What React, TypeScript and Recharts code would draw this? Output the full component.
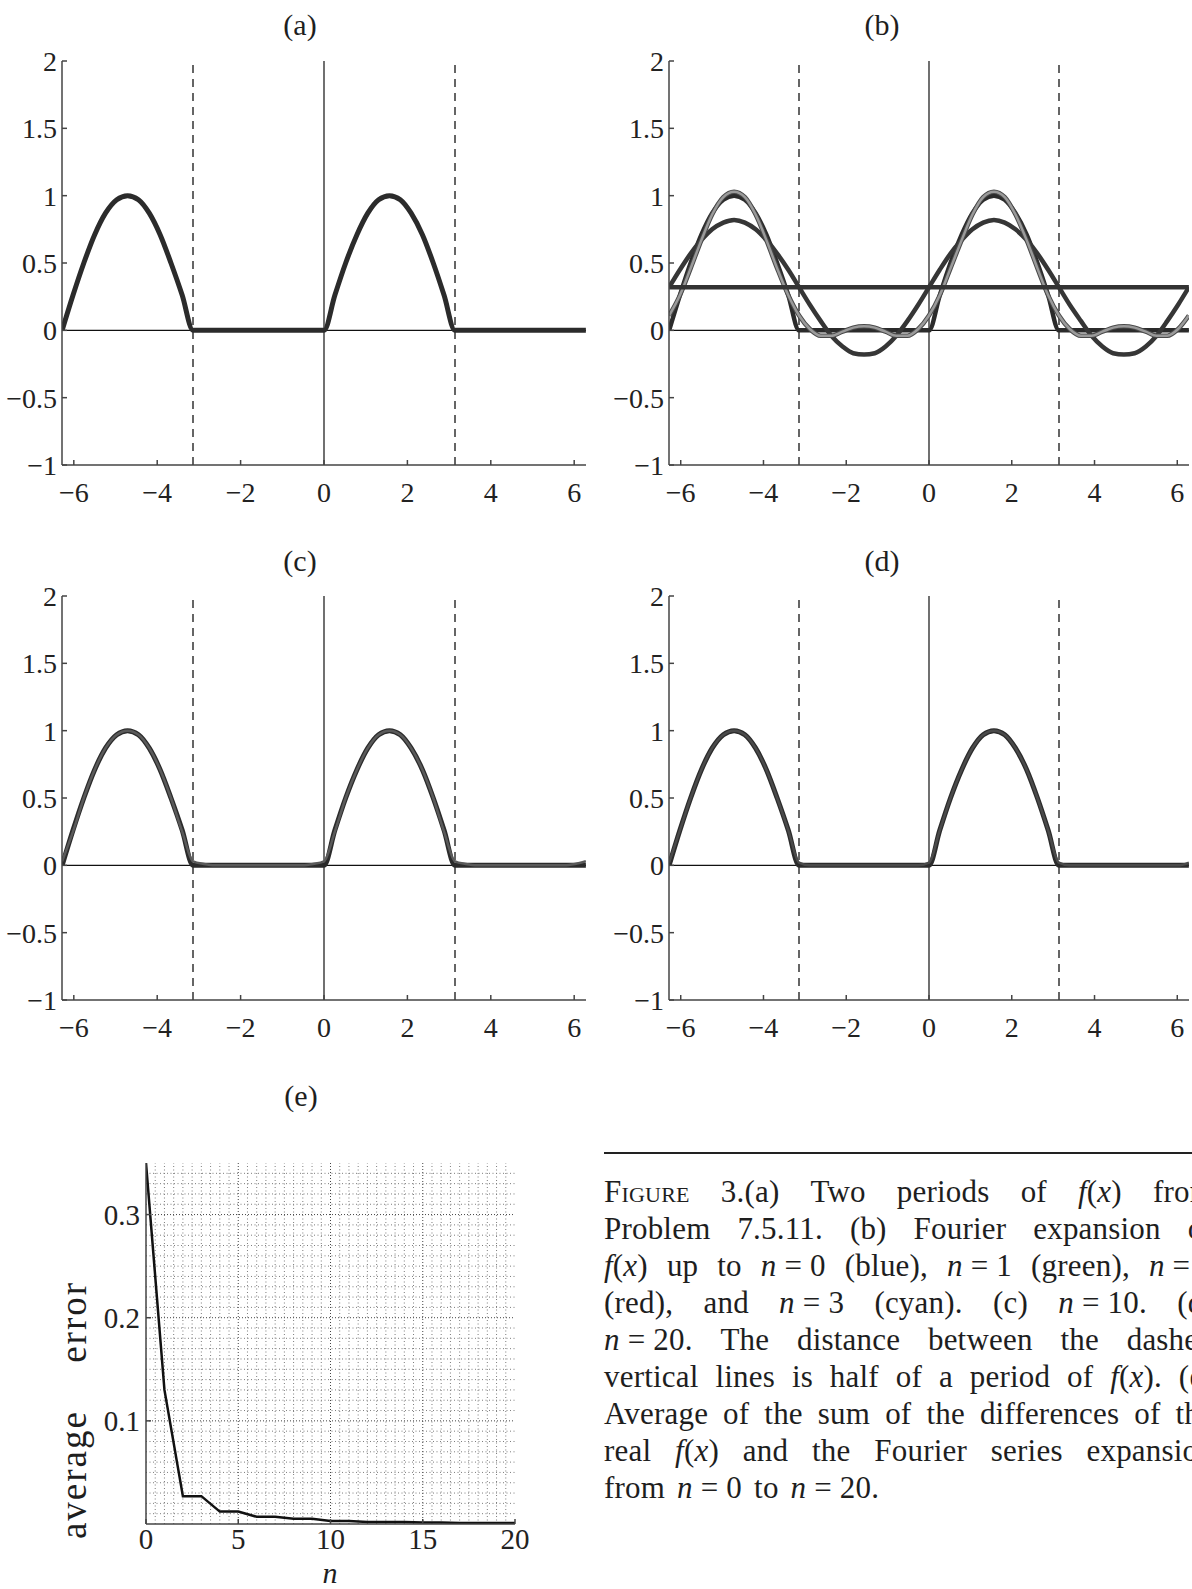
import React from 'react';
import { LineChart, Line, XAxis, YAxis, ReferenceLine } from 'recharts';

// x samples, steps of pi/12 across two periods
const xs = [
  -6.28, -6.02, -5.76, -5.5, -5.24, -4.97, -4.71, -4.45, -4.19, -3.93, -3.67, -3.4, -3.14,
  -2.88, -2.62, -2.36, -2.09, -1.83, -1.57, -1.31, -1.05, -0.79, -0.52, -0.26, 0,
  0.26, 0.52, 0.79, 1.05, 1.31, 1.57, 1.83, 2.09, 2.36, 2.62, 2.88, 3.14,
  3.4, 3.67, 3.93, 4.19, 4.45, 4.71, 4.97, 5.24, 5.5, 5.76, 6.02, 6.28,
];

// f(x), panel (a)
const exact = [
  0, 0.26, 0.5, 0.71, 0.87, 0.97, 1, 0.97, 0.87, 0.71, 0.5, 0.26, 0,
  0, 0, 0, 0, 0, 0, 0, 0, 0, 0, 0, 0,
  0.26, 0.5, 0.71, 0.87, 0.97, 1, 0.97, 0.87, 0.71, 0.5, 0.26, 0,
  0, 0, 0, 0, 0, 0, 0, 0, 0, 0, 0, 0,
];

// partial sums, panel (b)
const upToN0 = [
  0.32, 0.32, 0.32, 0.32, 0.32, 0.32, 0.32, 0.32, 0.32, 0.32, 0.32, 0.32, 0.32,
  0.32, 0.32, 0.32, 0.32, 0.32, 0.32, 0.32, 0.32, 0.32, 0.32, 0.32, 0.32,
  0.32, 0.32, 0.32, 0.32, 0.32, 0.32, 0.32, 0.32, 0.32, 0.32, 0.32, 0.32,
  0.32, 0.32, 0.32, 0.32, 0.32, 0.32, 0.32, 0.32, 0.32, 0.32, 0.32, 0.32,
];
const upToN1 = [
  0.32, 0.45, 0.57, 0.67, 0.75, 0.8, 0.82, 0.8, 0.75, 0.67, 0.57, 0.45, 0.32,
  0.19, 0.07, -0.04, -0.12, -0.17, -0.18, -0.17, -0.12, -0.04, 0.07, 0.19, 0.32,
  0.45, 0.57, 0.67, 0.75, 0.8, 0.82, 0.8, 0.75, 0.67, 0.57, 0.45, 0.32,
  0.19, 0.07, -0.04, -0.12, -0.17, -0.18, -0.17, -0.12, -0.04, 0.07, 0.19, 0.32,
];
const upToN2 = [
  0.11, 0.26, 0.46, 0.67, 0.86, 0.99, 1.03, 0.99, 0.86, 0.67, 0.46, 0.26, 0.11,
  0.01, -0.04, -0.04, -0.01, 0.02, 0.03, 0.02, -0.01, -0.04, -0.04, 0.01, 0.11,
  0.26, 0.46, 0.67, 0.86, 0.99, 1.03, 0.99, 0.86, 0.67, 0.46, 0.26, 0.11,
  0.01, -0.04, -0.04, -0.01, 0.02, 0.03, 0.02, -0.01, -0.04, -0.04, 0.01, 0.11,
];
const upToN3 = [
  0.11, 0.26, 0.46, 0.67, 0.86, 0.99, 1.03, 0.99, 0.86, 0.67, 0.46, 0.26, 0.11,
  0.01, -0.04, -0.04, -0.01, 0.02, 0.03, 0.02, -0.01, -0.04, -0.04, 0.01, 0.11,
  0.26, 0.46, 0.67, 0.86, 0.99, 1.03, 0.99, 0.86, 0.67, 0.46, 0.26, 0.11,
  0.01, -0.04, -0.04, -0.01, 0.02, 0.03, 0.02, -0.01, -0.04, -0.04, 0.01, 0.11,
];
// panels (c) and (d)
const upToN10 = [
  0.03, 0.25, 0.5, 0.71, 0.87, 0.97, 1, 0.97, 0.87, 0.71, 0.5, 0.25, 0.03,
  0.01, 0, 0, 0, 0, 0, 0, 0, 0, 0, 0.01, 0.03,
  0.25, 0.5, 0.71, 0.87, 0.97, 1, 0.97, 0.87, 0.71, 0.5, 0.25, 0.03,
  0.01, 0, 0, 0, 0, 0, 0, 0, 0, 0, 0.01, 0.03,
];
const upToN20 = [
  0.02, 0.26, 0.5, 0.71, 0.87, 0.97, 1, 0.97, 0.87, 0.71, 0.5, 0.26, 0.02,
  0, 0, 0, 0, 0, 0, 0, 0, 0, 0, 0, 0.02,
  0.26, 0.5, 0.71, 0.87, 0.97, 1, 0.97, 0.87, 0.71, 0.5, 0.26, 0.02,
  0, 0, 0, 0, 0, 0, 0, 0, 0, 0, 0, 0.02,
];

const xTicks = [-6, -4, -2, 0, 2, 4, 6];
const yTicks = [-1, -0.5, 0, 0.5, 1, 1.5, 2];
const halfPeriodMarks = [-3.1416, 3.1416];

// panel (e)
const nValues = [0, 1, 2, 3, 4, 5, 6, 7, 8, 9, 10, 11, 12, 13, 14, 15, 16, 17, 18, 19, 20];
const avgError = [
  0.35, 0.13, 0.027, 0.027, 0.012, 0.012, 0.007, 0.007, 0.005, 0.005, 0.003,
  0.003, 0.002, 0.002, 0.002, 0.0015, 0.0015, 0.001, 0.001, 0.001, 0.001,
];
const nTicks = [0, 5, 10, 15, 20];
const errTicks = [0.1, 0.2, 0.3];

// '*' wraps italic math, '~' is a fixed (non-stretching) space, '^' small caps
const captionLines = [
  '^Figure 3.(a) Two periods of *f*(*x*) from',
  'Problem 7.5.11. (b) Fourier expansion of',
  '*f*(*x*) up to *n*~=~0 (blue), *n*~=~1 (green), *n*~=~2',
  '(red), and *n*~=~3 (cyan). (c) *n*~=~10. (d)',
  '*n*~=~20. The distance between the dashed',
  'vertical lines is half of a period of *f*(*x*). (e)',
  'Average of the sum of the differences of the',
  'real *f*(*x*) and the Fourier series expansion',
  'from *n*~=~0 to *n*~=~20.',
];

const waveRows = xs.map((x, i) => ({
  x,
  exact: exact[i],
  n0: upToN0[i],
  n1: upToN1[i],
  n2: upToN2[i],
  n3: upToN3[i],
  n10: upToN10[i],
  n20: upToN20[i],
}));
const errRows = nValues.map((n, i) => ({ n, err: avgError[i] }));

// dotted grid of panel (e): every 0.5 in n, every 0.01 in error
const gridXMinor = Array.from({ length: 39 }, (_, i) => (i + 1) / 2).filter((v) => v % 5 !== 0);
const gridYMinor = Array.from({ length: 34 }, (_, i) => (i + 1) / 100).filter((_, i) => (i + 1) % 10 !== 0);
const gridXMajor = [5, 10, 15];

const SERIF = '"Liberation Serif", "DejaVu Serif", serif';
const INK = '#1e1e1e';
const TWO_PI = 6.2832;
const frame = { stroke: '#444', strokeWidth: 1.5 };
const tickStyle = { fontFamily: SERIF, fontSize: 28, fill: '#222' };
const errTickStyle = { fontFamily: SERIF, fontSize: 29, fill: '#222' };

const minus = (v: number) => String(v).replace('-', '\u2212');

type Trace = { key: string; color: string; width: number };

type PanelProps = {
  left: number;
  top: number;
  width: number;
  axisWidth: number;
  rightPad: number;
  traces: Trace[];
};

function WavePanel({ left, top, width, axisWidth, rightPad, traces }: PanelProps) {
  return (
    <div style={{ position: 'absolute', left, top, width, height: 520 }}>
      <LineChart
        width={width}
        height={520}
        data={waveRows}
        margin={{ top: 61, right: rightPad, bottom: 0, left: 0 }}
      >
        <XAxis
          dataKey="x"
          type="number"
          domain={[-TWO_PI, TWO_PI]}
          ticks={xTicks}
          interval={0}
          height={55}
          tickSize={-5}
          tickMargin={22}
          tick={tickStyle}
          tickFormatter={minus}
          axisLine={frame}
          tickLine={frame}
          allowDataOverflow
        />
        <XAxis
          xAxisId="top"
          orientation="top"
          type="number"
          domain={[-TWO_PI, TWO_PI]}
          ticks={xTicks}
          interval={0}
          height={0}
          tickSize={-5}
          tick={false}
          axisLine={frame}
          tickLine={frame}
          allowDataOverflow
        />
        <YAxis
          type="number"
          domain={[-1, 2]}
          ticks={yTicks}
          interval={0}
          width={axisWidth}
          tickSize={-5}
          tickMargin={10}
          tick={tickStyle}
          tickFormatter={minus}
          axisLine={frame}
          tickLine={frame}
          allowDataOverflow
        />
        <YAxis
          yAxisId="right"
          orientation="right"
          type="number"
          domain={[-1, 2]}
          ticks={yTicks}
          interval={0}
          width={0}
          tickSize={-5}
          tick={false}
          axisLine={frame}
          tickLine={frame}
          allowDataOverflow
        />
        <ReferenceLine y={0} stroke="#111" strokeWidth={1.2} />
        <ReferenceLine x={0} stroke="#111" strokeWidth={1.2} />
        {halfPeriodMarks.map((v) => (
          <ReferenceLine key={v} x={v} stroke="#333" strokeWidth={1.5} strokeDasharray="8 6" />
        ))}
        {traces.map((t) => (
          <Line
            key={t.key}
            dataKey={t.key}
            type="monotone"
            stroke={t.color}
            strokeWidth={t.width}
            strokeLinejoin="round"
            dot={false}
            activeDot={false}
            isAnimationActive={false}
          />
        ))}
      </LineChart>
    </div>
  );
}

function ErrorPanel() {
  return (
    <div style={{ position: 'absolute', left: 0, top: 1097, width: 600, height: 489 }}>
      <LineChart
        width={600}
        height={489}
        data={errRows}
        margin={{ top: 66, right: 85, bottom: 0, left: 0 }}
      >
        <XAxis
          dataKey="n"
          type="number"
          domain={[0, 20]}
          ticks={nTicks}
          interval={0}
          height={62}
          tickSize={-5}
          tickMargin={9}
          tick={errTickStyle}
          axisLine={frame}
          tickLine={frame}
          allowDataOverflow
        />
        <XAxis
          xAxisId="top"
          orientation="top"
          type="number"
          domain={[0, 20]}
          ticks={nTicks}
          interval={0}
          height={0}
          tickSize={-5}
          tick={false}
          axisLine={frame}
          tickLine={frame}
          allowDataOverflow
        />
        <YAxis
          type="number"
          domain={[0, 0.35]}
          ticks={errTicks}
          interval={0}
          width={146}
          tickSize={-5}
          tickMargin={11}
          tick={errTickStyle}
          axisLine={frame}
          tickLine={frame}
          allowDataOverflow
        />
        <YAxis
          yAxisId="right"
          orientation="right"
          type="number"
          domain={[0, 0.35]}
          ticks={errTicks}
          interval={0}
          width={0}
          tickSize={-5}
          tick={false}
          axisLine={frame}
          tickLine={frame}
          allowDataOverflow
        />
        {gridXMinor.map((v) => (
          <ReferenceLine key={'gx' + v} x={v} stroke="#7c7c7c" strokeWidth={1} strokeDasharray="1 2.5" />
        ))}
        {gridYMinor.map((v) => (
          <ReferenceLine key={'gy' + v} y={v} stroke="#7c7c7c" strokeWidth={1} strokeDasharray="1 2.5" />
        ))}
        {gridXMajor.map((v) => (
          <ReferenceLine key={'mx' + v} x={v} stroke="#444" strokeWidth={1} strokeDasharray="1 2" />
        ))}
        {errTicks.map((v) => (
          <ReferenceLine key={'my' + v} y={v} stroke="#444" strokeWidth={1} strokeDasharray="1 2" />
        ))}
        <Line
          dataKey="err"
          type="linear"
          stroke="#111"
          strokeWidth={2.5}
          dot={false}
          activeDot={false}
          isAnimationActive={false}
        />
      </LineChart>
    </div>
  );
}

function Word({ token }: { token: string }) {
  if (token.startsWith('^')) {
    return <span style={{ fontVariant: 'small-caps' }}>{token.slice(1)}</span>;
  }
  const parts = token.replace(/~/g, '\u00a0').split('*');
  return (
    <span style={{ whiteSpace: 'pre' }}>
      {parts.map((p, i) =>
        i % 2 === 1 ? (
          <i key={i}>{p}</i>
        ) : (
          <React.Fragment key={i}>{p}</React.Fragment>
        ),
      )}
    </span>
  );
}

function Caption() {
  return (
    <>
      <div style={{ position: 'absolute', left: 604, top: 1152, width: 600, height: 2, background: '#222' }} />
      {captionLines.map((line, i) => {
        const last = i === captionLines.length - 1;
        return (
          <div
            key={i}
            style={{
              position: 'absolute',
              left: 604,
              top: 1173 + 37 * i,
              width: 610,
              height: 37,
              lineHeight: '37px',
              fontSize: 31,
              letterSpacing: 0.2,
              display: 'flex',
              justifyContent: last ? 'flex-start' : 'space-between',
              gap: last ? 12 : 0,
              whiteSpace: 'nowrap',
            }}
          >
            {line.split(' ').map((t, j) => (
              <Word key={j} token={t} />
            ))}
          </div>
        );
      })}
    </>
  );
}

const titleStyle: React.CSSProperties = {
  position: 'absolute',
  width: 80,
  textAlign: 'center',
  fontSize: 30,
  lineHeight: '36px',
};

export default function App() {
  return (
    <div
      style={{
        position: 'absolute',
        left: 0,
        top: 0,
        width: 1192,
        height: 1589,
        overflow: 'hidden',
        background: '#fff',
        fontFamily: SERIF,
        color: INK,
      }}
    >
      <div style={{ ...titleStyle, left: 260, top: 7 }}>(a)</div>
      <div style={{ ...titleStyle, left: 842, top: 7 }}>(b)</div>
      <div style={{ ...titleStyle, left: 260, top: 543 }}>(c)</div>
      <div style={{ ...titleStyle, left: 842, top: 543 }}>(d)</div>
      <div style={{ ...titleStyle, left: 261, top: 1078 }}>(e)</div>

      <WavePanel
        left={0}
        top={0}
        width={600}
        axisWidth={62}
        rightPad={14}
        traces={[{ key: 'exact', color: '#2b2b2b', width: 5 }]}
      />
      <WavePanel
        left={600}
        top={0}
        width={592}
        axisWidth={69}
        rightPad={3}
        traces={[
          { key: 'exact', color: '#2b2b2b', width: 4.5 },
          { key: 'n1', color: '#363636', width: 4.5 },
          { key: 'n2', color: '#4a4a4a', width: 4.5 },
          { key: 'n3', color: '#9a9a9a', width: 2.5 },
          { key: 'n0', color: '#333', width: 4.5 },
        ]}
      />
      <WavePanel
        left={0}
        top={535}
        width={600}
        axisWidth={62}
        rightPad={14}
        traces={[
          { key: 'exact', color: '#2b2b2b', width: 5 },
          { key: 'n10', color: '#5a5a5a', width: 2.5 },
        ]}
      />
      <WavePanel
        left={600}
        top={535}
        width={592}
        axisWidth={69}
        rightPad={3}
        traces={[
          { key: 'exact', color: '#2b2b2b', width: 5 },
          { key: 'n20', color: '#4a4a4a', width: 2.5 },
        ]}
      />

      <ErrorPanel />
      <div
        style={{
          position: 'absolute',
          left: 74 - 180,
          top: 1410 - 24,
          width: 360,
          height: 48,
          lineHeight: '48px',
          textAlign: 'center',
          fontSize: 37,
          letterSpacing: 2,
          wordSpacing: 36,
          whiteSpace: 'nowrap',
          transform: 'rotate(-90deg)',
        }}
      >
        average error
      </div>
      <div
        style={{
          position: 'absolute',
          left: 300,
          top: 1561,
          width: 60,
          height: 24,
          lineHeight: '24px',
          textAlign: 'center',
          fontSize: 30,
          fontStyle: 'italic',
        }}
      >
        n
      </div>

      <Caption />
    </div>
  );
}
